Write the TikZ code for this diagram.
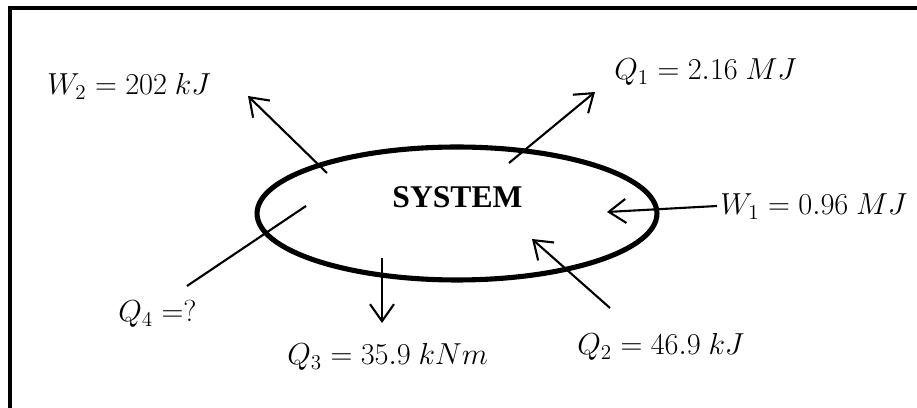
\documentclass[tikz,border=0pt]{standalone}
\usepackage{amsmath}
\usepackage{fontspec}
\setmainfont{Liberation Serif}
\usepackage{tikz}
\usetikzlibrary{arrows.meta, shapes.geometric}

\begin{document}
\begin{tikzpicture}[x=0.02cm, y=-0.02cm, >={Straight Barb[length=3.4mm, width=4.8mm]},
  flow/.style={line width=1.2pt, ->},
  qty/.style={anchor=base west, inner sep=0pt, font=\fontsize{17.5}{20}\selectfont}]
\useasboundingbox (0,0) rectangle (917,408);
\draw[line width=2.1pt] (10,408) -- (10,8) -- (917,8);
\node[draw, ellipse, line width=2.9pt, minimum width=8cm, minimum height=2.66cm] (sys) at (457,213.5) {};
\node[anchor=base, inner sep=0pt, font=\fontsize{18}{21}\selectfont\bfseries] (sysname) at (457.5,208) {SYSTEM};
\node[qty] (w2) at (47,95) {$W_2 = 202\ kJ$};
\node[qty] (q1) at (614,80) {$Q_1 = 2.16\ MJ$};
\node[qty] (w1) at (720,215) {$W_1 = 0.96\ MJ$};
\node[qty] (q2) at (577,355) {$Q_2 = 46.9\ kJ$};
\node[qty] (q3) at (287,365) {$Q_3 = 35.9\ kNm$};
\node[qty] (q4) at (118,322) {$Q_4 =?$};
\coordinate (w2a) at (327,173);
\coordinate (w2b) at (248,96);
\coordinate (q1a) at (509,163);
\coordinate (q1b) at (595,92);
\coordinate (w1a) at (717,206);
\coordinate (w1b) at (607,212);
\coordinate (q2a) at (610,308);
\coordinate (q2b) at (532,239);
\coordinate (q3a) at (382,258);
\coordinate (q3b) at (382,323);
\coordinate (q4a) at (306,206);
\coordinate (q4b) at (187,286);
\draw[flow] (w2a) -- (w2b);
\draw[flow] (q1a) -- (q1b);
\draw[flow] (w1a) -- (w1b);
\draw[flow] (q2a) -- (q2b);
\draw[flow] (q3a) -- (q3b);
\draw[line width=1.2pt] (q4a) -- (q4b);
\end{tikzpicture}
\end{document}
